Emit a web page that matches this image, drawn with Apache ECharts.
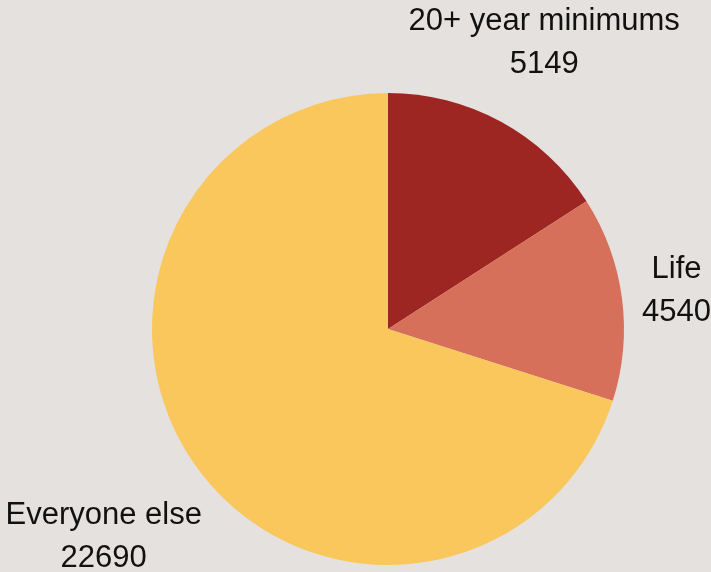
<!DOCTYPE html>
<html>
<head>
<meta charset="utf-8">
<script src="https://cdn.jsdelivr.net/npm/echarts@6/dist/echarts.min.js"></script>
<style>
html,body{margin:0;padding:0;background:#e5e1de;}
#chart{width:711px;height:572px;}
</style>
</head>
<body>
<div id="chart"></div>
<script>
var categories = ['20+ year minimums', 'Life', 'Everyone else'];
var values = [5149, 4540, 22690];
var colors = ['#9d2522', '#d6705a', '#f9c75b'];

var labelLengths = [90, 55, 116];
var labelShiftY = [0, 0, 0];

var chart = echarts.init(document.getElementById('chart'));
chart.setOption({
  backgroundColor: '#e5e1de',
  animation: false,
  series: [{
    type: 'pie',
    center: [388, 329],
    radius: 236,
    startAngle: 90,
    clockwise: true,
    avoidLabelOverlap: false,
    data: categories.map(function (c, i) {
      return {
        name: c,
        value: values[i],
        itemStyle: { color: colors[i] },
        labelLine: { show: false, length: labelLengths[i], length2: 0 }
      };
    }),
    itemStyle: { borderWidth: 0 },
    label: {
      show: true,
      position: 'outside',
      distanceToLabelLine: 0,
      formatter: '{a|{b}}\n{a|{c}}',
      rich: {
        a: {
          fontFamily: 'Liberation Sans, Arial, Helvetica, sans-serif',
          fontSize: 31,
          color: '#111',
          lineHeight: 43,
          align: 'center'
        }
      }
    },
    labelLine: { show: false },
    labelLayout: function (params) {
      return { align: 'center', verticalAlign: 'middle', dy: labelShiftY[params.dataIndex] };
    },
    emphasis: { disabled: true }
  }]
});
</script>
</body>
</html>
